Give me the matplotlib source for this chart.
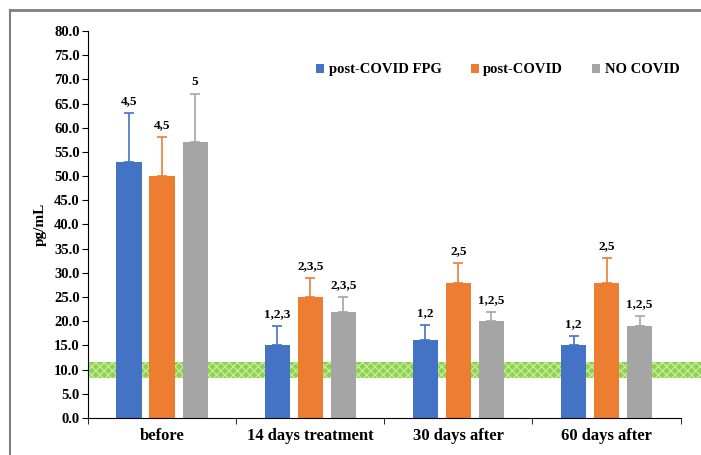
import numpy as np
import matplotlib.pyplot as plt
from matplotlib.lines import Line2D

plt.rcParams['font.family'] = 'Liberation Serif'
plt.rcParams['font.weight'] = 'bold'
plt.rcParams['axes.labelweight'] = 'bold'
plt.rcParams['hatch.linewidth'] = 1.0

categories = ['before', '14 days treatment', '30 days after', '60 days after']
series = ['post-COVID FPG', 'post-COVID', 'NO COVID']
colors = ['#4472C4', '#ED7D31', '#A5A5A5']

means = {
    'post-COVID FPG': [53.0, 15.0, 16.2, 15.0],
    'post-COVID': [50.0, 25.0, 28.0, 28.0],
    'NO COVID': [57.0, 22.0, 20.0, 19.0],
}
errors = {
    'post-COVID FPG': [10.0, 4.0, 3.0, 2.0],
    'post-COVID': [8.0, 4.0, 4.0, 5.0],
    'NO COVID': [10.0, 3.0, 2.0, 2.0],
}
labels = {
    'post-COVID FPG': ['4,5', '1,2,3', '1,2', '1,2'],
    'post-COVID': ['4,5', '2,3,5', '2,5', '2,5'],
    'NO COVID': ['5', '2,3,5', '1,2,5', '1,2,5'],
}
band = (8.3, 11.6)

fig = plt.figure(figsize=(7.01, 4.55), dpi=100)
ax = fig.add_axes([0.1255, 0.0813, 0.8455, 0.8507])

# outer frame (top and left only)
fig.add_artist(Line2D([10 / 701, 1.0], [1 - 10 / 455, 1 - 10 / 455],
                      transform=fig.transFigure, color='#7f7f7f', lw=2))
fig.add_artist(Line2D([10 / 701, 10 / 701], [1 - 10 / 455, 0.0],
                      transform=fig.transFigure, color='#7f7f7f', lw=1.5))

# reference band
ax.axhspan(band[0], band[1], xmin=0, xmax=1.034, facecolor='#8fd14f',
           edgecolor='#c2ec98', hatch='xxxx', linewidth=0, clip_on=False, zorder=1)

x = np.arange(len(categories))
w = 0.17
step = 0.223
for i, s in enumerate(series):
    xs = x + (i - 1) * step
    ax.bar(xs, means[s], width=w, color=colors[i], zorder=2, label=s)
    ax.errorbar(xs, means[s], yerr=[np.zeros(4), errors[s]], fmt='none',
                ecolor=colors[i], elinewidth=1.2, capsize=3.5, capthick=1.2, zorder=3)
    for xi, m, e, lab in zip(xs, means[s], errors[s], labels[s]):
        ax.text(xi, m + e + 1.2, lab, ha='center', va='bottom',
                fontsize=9.5, fontweight='bold')

ax.set_xlim(-0.5, 3.5)
ax.set_ylim(0, 80)
ax.set_yticks(np.arange(0, 80.1, 5))
ax.set_yticklabels([f'{v:.1f}' for v in np.arange(0, 80.1, 5)], fontsize=10.5)
ax.set_xticks(x)
ax.set_xticklabels(categories, fontsize=12)
ax.tick_params(axis='x', length=0, pad=7)
ax.set_xticks(np.arange(-0.5, 3.6, 1), minor=True)
ax.tick_params(axis='x', which='minor', length=4, direction='out')
ax.tick_params(axis='y', length=4, direction='out', pad=2)
for sp in ['top', 'right']:
    ax.spines[sp].set_visible(False)
ax.set_ylabel('pg/mL', fontsize=11, labelpad=5)

ax.legend(loc='upper right', bbox_to_anchor=(1.02, 0.95), ncol=3, frameon=False,
          fontsize=10.5, handlelength=0.55, handleheight=0.55, handletextpad=0.3,
          columnspacing=2.0)

fig.savefig('out.png', dpi=100)
